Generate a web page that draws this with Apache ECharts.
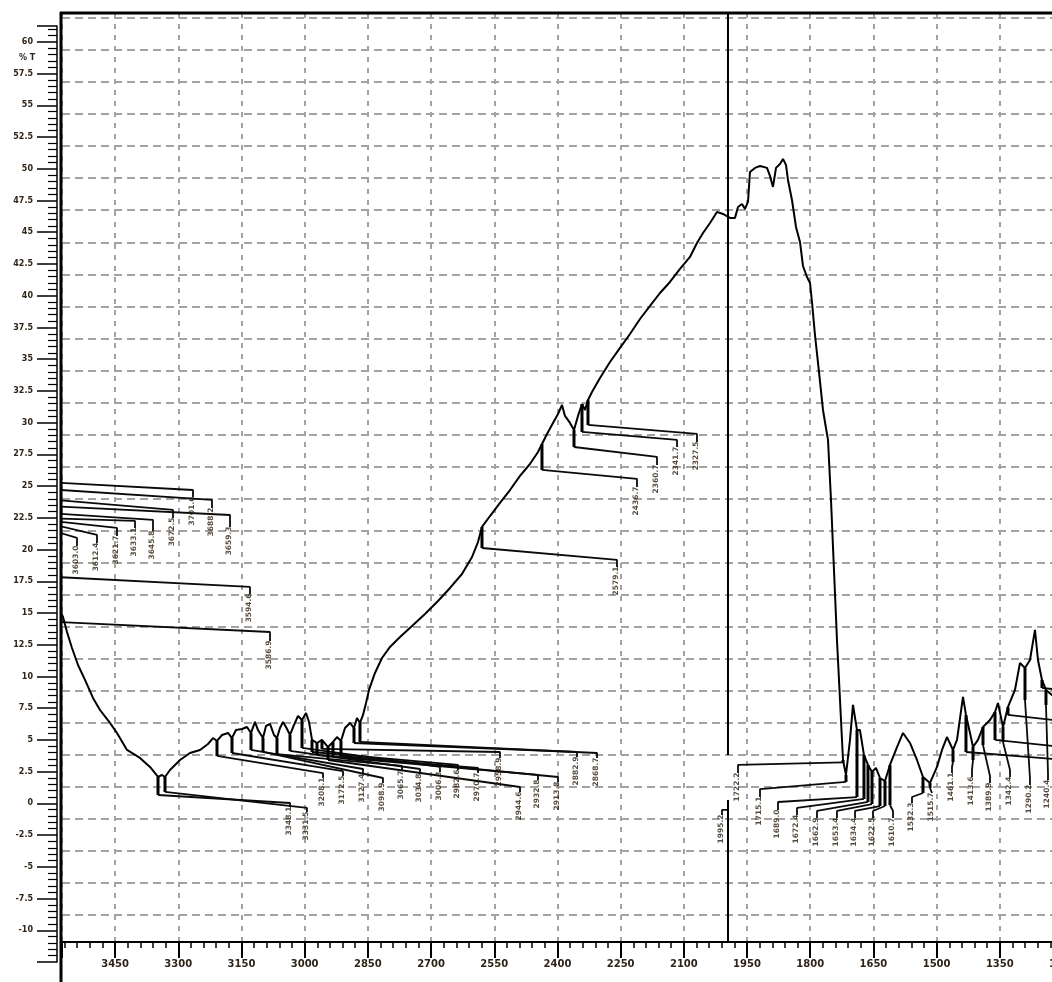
<!DOCTYPE html>
<html>
<head>
<meta charset="utf-8">
<title>IR spectrum</title>
<script src="https://cdn.jsdelivr.net/npm/echarts@6/dist/echarts.min.js"></script>
<style>
  html, body { margin: 0; padding: 0; background: #ffffff; overflow: hidden; }
  #chart { width: 1052px; height: 982px; }
</style>
</head>
<body>
<div id="chart"></div>
<script>
// Spectrum trace: wavenumber (cm-1) and transmittance (%T)
const wavenumber = [
  3592.6, 3573.6, 3564.1, 3552.3, 3538.0, 3521.4, 3502.4, 3485.8, 3462.1, 3445.5,
  3421.7, 3390.9, 3367.1, 3348.1, 3338.6, 3331.5, 3319.7, 3295.9, 3272.2, 3248.4,
  3229.5, 3217.6, 3208.1, 3196.2, 3182.0, 3172.5, 3163.0, 3148.8, 3136.9, 3127.4,
  3117.9, 3110.8, 3098.9, 3091.8, 3082.3, 3072.8, 3065.7, 3058.6, 3051.4, 3044.3,
  3034.8, 3025.3, 3015.8, 3006.3, 2996.8, 2989.7, 2982.6, 2970.7, 2958.9, 2944.6,
  2932.8, 2923.3, 2913.8, 2904.3, 2892.4, 2882.9, 2875.8, 2868.7, 2861.5, 2854.4,
  2847.3, 2833.1, 2816.4, 2797.5, 2773.7, 2745.2, 2714.4, 2683.5, 2655.0, 2626.6,
  2602.8, 2588.6, 2579.1, 2560.1, 2536.4, 2512.6, 2488.9, 2465.2, 2446.2, 2436.7,
  2424.8, 2410.6, 2398.7, 2389.2, 2382.1, 2370.2, 2360.7, 2351.2, 2341.7, 2334.6,
  2327.5, 2318.0, 2299.0, 2275.3, 2251.5, 2227.8, 2204.1, 2180.3, 2156.6, 2132.9,
  2109.1, 2085.4, 2068.8, 2054.5, 2037.9, 2021.3, 2007.1, 1990.4, 1978.6, 1971.4,
  1962.0, 1954.8, 1947.7, 1943.0, 1931.1, 1919.2, 1902.6, 1895.5, 1888.4, 1881.2,
  1871.8, 1864.6, 1857.5, 1852.8, 1843.3, 1833.8, 1824.3, 1817.2, 1807.7, 1800.5,
  1795.8, 1788.7, 1779.2, 1769.7, 1762.6, 1757.8, 1750.7, 1743.6, 1736.5, 1729.3,
  1722.2, 1715.1, 1705.6, 1698.5, 1689.0, 1681.9, 1672.4, 1662.9, 1653.4, 1643.9,
  1634.4, 1622.5, 1610.7, 1594.0, 1579.8, 1563.2, 1546.6, 1532.3, 1515.7, 1499.1,
  1487.2, 1475.4, 1461.1, 1451.6, 1437.4, 1430.3, 1420.8, 1413.6, 1401.8, 1389.9,
  1373.3, 1361.4, 1354.3, 1342.4, 1330.6, 1314.0, 1302.1, 1290.2, 1278.4, 1266.5,
  1259.4, 1249.9, 1240.4, 1226.1, 1207.1
];
const transmittance = [
  16.00, 14.66, 13.48, 12.22, 10.88, 9.70, 8.28, 7.33, 6.31, 5.52,
  4.18, 3.55, 2.84, 2.05, 2.21, 2.05, 2.60, 3.39, 3.94, 4.18,
  4.65, 5.12, 4.89, 5.36, 5.52, 5.12, 5.75, 5.83, 5.99, 5.52,
  6.39, 5.75, 5.12, 6.07, 6.23, 5.36, 5.12, 5.91, 6.39, 5.99,
  5.36, 6.15, 6.86, 6.54, 7.09, 6.39, 4.97, 4.73, 4.97, 4.41,
  4.81, 5.20, 4.89, 5.91, 6.31, 5.91, 6.70, 6.31, 6.94, 7.88,
  8.91, 10.25, 11.43, 12.30, 13.09, 13.95, 14.90, 15.92, 16.95, 18.05,
  19.39, 20.57, 21.76, 22.62, 23.65, 24.67, 25.78, 26.72, 27.67, 28.30,
  29.09, 29.96, 30.66, 31.37, 30.51, 29.96, 29.40, 30.51, 31.45, 30.98,
  31.77, 32.40, 33.50, 34.76, 35.87, 36.97, 38.15, 39.18, 40.20, 41.07,
  42.10, 43.04, 44.14, 44.93, 45.72, 46.59, 46.43, 46.12, 46.12, 46.98,
  47.22, 46.83, 47.38, 49.74, 50.06, 50.21, 50.06, 49.43, 48.56, 50.06,
  50.37, 50.77, 50.29, 49.11, 47.53, 45.41, 44.22, 42.33, 41.46, 40.99,
  39.49, 36.89, 33.98, 30.98, 29.56, 28.62, 23.89, 18.37, 12.85, 8.12,
  3.39, 2.21, 4.97, 7.73, 5.75, 5.75, 3.78, 3.00, 2.44, 2.76,
  1.97, 1.73, 3.00, 4.41, 5.52, 4.73, 3.39, 2.05, 1.58, 2.84,
  4.18, 5.20, 4.18, 4.97, 8.36, 6.94, 5.52, 4.41, 4.97, 5.99,
  6.54, 7.17, 7.88, 5.99, 7.57, 8.91, 11.04, 10.64, 11.27, 13.64,
  11.27, 9.70, 8.91, 8.51, 8.12
];

// Picked bands: wavenumber and %T at each band (the last one is the cursor)
const bandWavenumber = [
  3701.6, 3688.2, 3672.5, 3659.3, 3645.8, 3633.1, 3621.7, 3612.4, 3603.0, 3594.6, 3586.9,
  3348.1, 3331.5, 3208.1, 3172.5, 3127.4, 3098.9, 3065.7, 3034.8, 3006.3, 2982.6,
  2970.7, 2958.9, 2944.6, 2932.8, 2913.8, 2882.9, 2868.7,
  2436.7, 2360.7, 2341.7, 2327.5, 2579.1,
  1722.2, 1715.1, 1689.0, 1672.4, 1662.9, 1653.4, 1634.4, 1622.5, 1610.7, 1532.3,
  1515.7, 1461.1, 1413.6, 1389.9, 1342.4, 1290.2, 1240.4, 1330.6, 1249.9, 1430.3, 1361.4,
  1995.2
];
const bandTransmittance = [
  26.3, 25.7, 24.9, 24.3, 23.7, 23.3, 23.1, 22.9, 22.3, 18.6, 15.1,
  2.05, 2.05, 4.89, 5.12, 5.52, 5.12, 5.12, 5.36, 6.54, 4.97,
  4.73, 4.97, 4.41, 4.81, 4.89, 5.91, 6.31,
  28.30, 29.40, 31.45, 31.77, 21.76,
  3.39, 2.21, 5.75, 3.78, 3.00, 2.44, 1.97, 1.73, 3.00, 2.05,
  1.58, 4.18, 4.41, 5.99, 5.99, 10.64, 8.91, 7.57, 9.70, 6.94, 7.17,
  -0.55
];

// Tag placement for each band: [tag wavenumber, tag top %T, leader drop %T, leader end %T]
const tagLayout = [
  [3265.1, 24.12, 25.46, 24.67], [3220.0, 23.25, 24.91, 23.89], [3312.5, 22.47, 24.12, 23.10],
  [3177.2, 21.76, 23.49, 22.70], [3360.0, 21.44, 22.94, 22.31], [3402.7, 21.68, 22.47, 22.23],
  [3445.5, 21.05, 22.31, 21.68], [3492.9, 20.50, 22.07, 21.13], [3540.4, 20.26, 21.52, 20.89],
  [3129.8, 16.48, 17.82, 17.03], [3082.3, 12.77, 14.27, 13.48],
  [3034.8, -0.32, 0.63, 0.00], [2994.5, -0.71, 0.87, -0.39], [2956.5, 1.97, 3.71, 2.36],
  [2909.0, 2.13, 3.94, 2.52], [2861.5, 2.29, 4.18, 2.68], [2814.1, 1.58, 4.02, 1.97],
  [2769.0, 2.52, 3.86, 2.92], [2726.3, 2.29, 4.10, 2.68], [2678.8, 2.44, 4.34, 2.84],
  [2636.0, 2.60, 4.02, 3.00], [2588.6, 2.36, 3.78, 2.76], [2536.4, 3.55, 4.26, 4.02],
  [2488.9, 0.87, 3.39, 1.26], [2446.2, 1.81, 3.63, 2.21], [2398.7, 1.66, 3.71, 2.05],
  [2353.6, 3.63, 4.73, 4.02], [2306.1, 3.55, 4.81, 3.94],
  [2211.2, 24.91, 26.25, 25.54], [2163.7, 26.64, 28.06, 27.28], [2116.2, 28.06, 29.25, 28.62],
  [2068.8, 28.46, 29.80, 29.09], [2258.7, 18.60, 20.10, 19.16],
  [1971.4, 2.36, 3.20, 3.00], [1919.2, 0.47, 1.66, 1.10], [1876.5, -0.55, 0.47, 0.08],
  [1831.4, -0.95, 0.32, -0.39], [1783.9, -1.18, 0.08, -0.63], [1736.5, -1.18, -0.08, -0.63],
  [1693.7, -1.18, -0.24, -0.63], [1651.0, -1.18, -0.24, -0.63], [1603.5, -1.18, -0.16, -0.63],
  [1558.4, 0.00, 0.79, 0.47], [1511.0, 0.79, 1.18, 1.10], [1463.5, 2.36, 3.23, 2.84],
  [1416.0, 2.05, 3.39, 2.60], [1373.3, 1.58, 4.57, 2.13], [1325.8, 2.05, 4.81, 2.60],
  [1278.4, 1.42, 8.12, 1.97], [1235.6, 1.81, 7.73, 2.36], [1183.4, 5.75, 6.94, 6.39],
  [1159.7, 8.12, 9.07, 8.75], [1195.3, 2.76, 4.02, 3.39], [1135.9, 3.39, 4.97, 4.18],
  [2009.4, -0.95, -0.55, -0.55]
];

// Cursor line at the last band, broken where its tag sits (%T)
const cursorGap = [3.78, 0.24];

// Axis windows
const X_MIN = 1200, X_MAX = 3576, X_STEP = 150;
const T_MIN = -10.957, T_MAX = 62.27;
const SCALE_MIN = -12.5, SCALE_MAX = 61.25, SCALE_STEP = 2.5;

const INK = '#000000';
const LABEL_INK = '#2f2418';
const TAG_INK = '#2a1c0a';
const GRID_GREY = '#a3a3a3';
const FONT = 'DejaVu Sans';

const chart = echarts.init(document.getElementById('chart'), null, { renderer: 'canvas' });

const series = [];

// spectrum trace
series.push({
  type: 'line', xAxisIndex: 0, yAxisIndex: 0,
  data: wavenumber.map((w, i) => [w, transmittance[i]]),
  symbol: 'none', showSymbol: false, clip: true, silent: true, z: 4,
  lineStyle: { color: INK, width: 2 }
});

// leader lines from each band down to its tag; the drop under the band is drawn heavier
bandWavenumber.forEach((w, i) => {
  const [tw, top, drop, end] = tagLayout[i];
  series.push({
    type: 'line', xAxisIndex: 0, yAxisIndex: 0,
    data: [[w, drop], [tw, end], [tw, top]],
    symbol: 'none', showSymbol: false, clip: true, silent: true, z: 3,
    lineStyle: { color: '#0a0a0a', width: 1.8 }
  });
  series.push({
    type: 'line', xAxisIndex: 0, yAxisIndex: 0,
    data: [[w, bandTransmittance[i]], [w, drop]],
    symbol: 'none', showSymbol: false, clip: true, silent: true, z: 3,
    lineStyle: { color: INK, width: 3 }
  });
});

// cursor line
const cursorWn = bandWavenumber[bandWavenumber.length - 1];
[[T_MAX, cursorGap[0]], [cursorGap[1], T_MIN]].forEach(seg => {
  series.push({
    type: 'line', xAxisIndex: 0, yAxisIndex: 0,
    data: [[cursorWn, seg[0]], [cursorWn, seg[1]]],
    symbol: 'none', showSymbol: false, clip: true, silent: true, z: 3,
    lineStyle: { color: INK, width: 2 }
  });
});

// band tags (vertical text)
series.push({
  type: 'scatter', xAxisIndex: 0, yAxisIndex: 0,
  data: tagLayout.map((t, i) => [t[0], t[1], bandWavenumber[i]]),
  symbolSize: 1, clip: true, silent: true, z: 5,
  itemStyle: { color: 'rgba(0,0,0,0)' },
  label: {
    show: true, position: [0, 0], rotate: 90, align: 'right', verticalAlign: 'middle',
    formatter: p => p.value[2].toFixed(1),
    fontFamily: FONT, fontSize: 7.5, fontWeight: 'bold', color: TAG_INK
  }
});

const isStep = (v, step) => Math.abs(v / step - Math.round(v / step)) < 1e-6;

const option = {
  animation: false,
  backgroundColor: '#ffffff',
  grid: [
    { left: 62, top: 13, width: 1001, height: 929, outerBoundsMode: 'none', containLabel: false },  // plot area
    { left: 57, top: 26, width: 1, height: 936, outerBoundsMode: 'none', containLabel: false },     // %T scale
    { left: 62, top: 18, width: 1001, height: 897, outerBoundsMode: 'none', containLabel: false }   // horizontal chart grid
  ],
  xAxis: [
    {
      gridIndex: 0, type: 'value', inverse: true,
      min: X_MIN, max: X_MAX, interval: X_STEP,
      axisLine: { show: true, onZero: false, lineStyle: { color: INK, width: 2 } },
      axisTick: { show: true, length: 16, lineStyle: { color: INK, width: 2 } },
      minorTick: { show: true, splitNumber: 5, length: 6, lineStyle: { color: INK, width: 1.5 } },
      axisLabel: {
        margin: 17, fontFamily: FONT, fontSize: 10, fontWeight: 'bold', color: LABEL_INK,
        hideOverlap: false,
        formatter: v => (isStep(v, X_STEP) ? String(v) : '')
      },
      splitLine: { show: true, lineStyle: { color: GRID_GREY, width: 2, type: [5, 6] } }
    },
    { gridIndex: 1, type: 'value', min: 0, max: 1, show: false },
    { gridIndex: 2, type: 'value', min: 0, max: 1, show: false }
  ],
  yAxis: [
    { gridIndex: 0, type: 'value', min: T_MIN, max: T_MAX, show: false },
    {
      gridIndex: 1, type: 'value', min: SCALE_MIN, max: SCALE_MAX, interval: SCALE_STEP,
      axisLine: { show: true, onZero: false, lineStyle: { color: INK, width: 1.5 } },
      axisTick: { show: true, length: 20, lineStyle: { color: INK, width: 1.5 } },
      minorTick: { show: true, splitNumber: 5, length: 9, lineStyle: { color: INK, width: 1.2 } },
      axisLabel: {
        margin: 24, fontFamily: FONT, fontSize: 8, fontWeight: 'bold', color: LABEL_INK,
        formatter: v => (v >= -10 && v <= 60 && isStep(v, SCALE_STEP) ? String(v) : '')
      },
      splitLine: { show: false }
    },
    {
      gridIndex: 2, type: 'value', min: 0, max: 28, interval: 1,
      axisLine: { show: false }, axisTick: { show: false }, axisLabel: { show: false },
      splitLine: { show: true, lineStyle: { color: GRID_GREY, width: 2, type: [8, 5] } }
    }
  ],
  graphic: [
    { type: 'line', z: 10, shape: { x1: 60, y1: 13, x2: 1052, y2: 13 }, style: { stroke: INK, lineWidth: 3 } },
    { type: 'line', z: 10, shape: { x1: 61, y1: 12, x2: 61, y2: 982 }, style: { stroke: INK, lineWidth: 3 } },
    { type: 'text', z: 10, x: 19, y: 54, style: { text: '% T', font: 'bold 8px "DejaVu Sans"', fill: LABEL_INK } }
  ],
  series: series
};

chart.setOption(option);
</script>
</body>
</html>
